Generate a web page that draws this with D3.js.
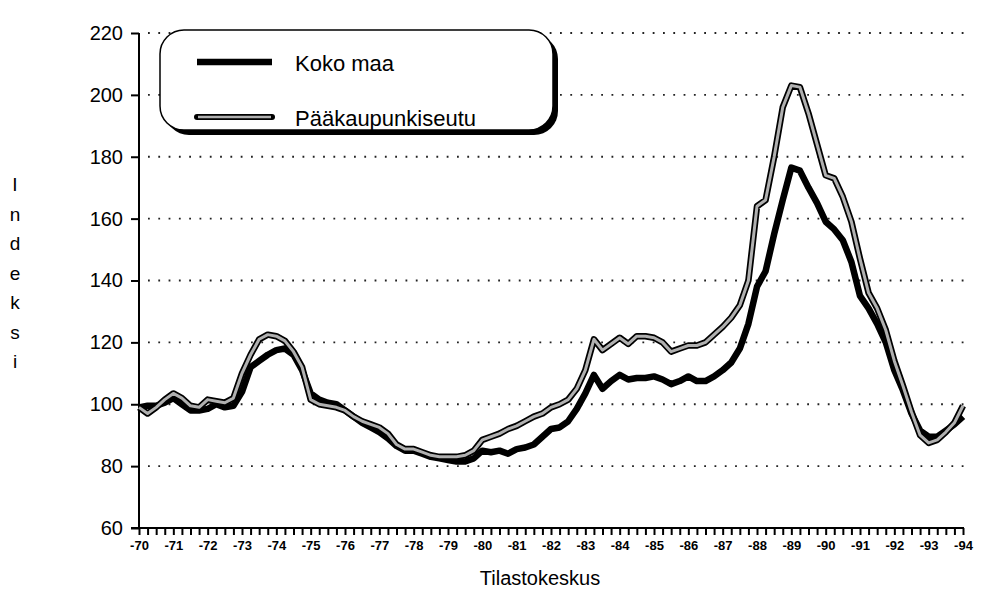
<!DOCTYPE html>
<html>
<head>
<meta charset="utf-8">
<script src="https://cdn.jsdelivr.net/npm/d3@7"></script>
<style>
  body { margin: 0; background: #fff; }
  svg { display: block; font-family: 'Liberation Sans', Arial, sans-serif; }
</style>
</head>
<body>
<svg id="chart" width="981" height="590"></svg>
<script>
// quarterly index values, 1970 Q1 .. 1994 Q1
const startYear = 1970;
const kokoMaa = [
  99, 99.5, 99.5, 100.5,  102, 100, 98, 98,  98.5, 100, 99, 99.5,
  104, 112, 114, 116,  117.5, 118, 116, 111,  103.5, 101.5, 100.5, 100,
  98, 96, 94, 92.5,  91, 89, 86.5, 85,  85, 84, 83, 82.5,
  82, 81.5, 81.5, 82.5,  85, 84.5, 85, 84,  85.5, 86, 87, 89.5,
  92, 92.5, 94.5, 98.5,  103.5, 109.5, 105, 107.5,  109.5, 108, 108.5, 108.5,
  109, 108, 106.5, 107.5,  109, 107.5, 107.5, 109,  111, 113.5, 118, 126,
  138, 143, 155, 166,  176.5, 175.5, 170, 165,  159, 156.5, 153, 146,
  135, 131, 126, 120,  111, 104.5, 97, 91.5,  89.5, 89.5, 91.5, 93.5,
  96
];
const paakaupunkiseutu = [
  99, 97, 99, 101.5,  103.5, 102, 99.5, 99,  101.5, 101, 100.5, 102,
  110, 116, 121, 122.5,  122, 120.5, 117, 112,  101.5, 100, 99.5, 99,
  98, 96, 94.5, 93.5,  92.5, 90.5, 87, 85.5,  85.5, 84.5, 83.5, 83,
  83, 83, 83.5, 85,  88.5, 89.5, 90.5, 92,  93, 94.5, 96, 97,
  99, 100, 101.5, 105,  111, 121, 117.5, 119.5,  121.5, 119.5, 122, 122,
  121.5, 120, 117, 118,  119, 119, 120, 122.5,  125, 128, 132, 140,
  164, 166, 180, 196,  203, 202.5, 194, 184,  174, 173, 167, 159,
  147, 136, 131, 124,  114, 106, 97.5, 90,  87.5, 88.5, 91, 94,
  99.5
];
const yTicks = [60, 80, 100, 120, 140, 160, 180, 200, 220];
const gridValues = [80, 100, 120, 140, 160, 180, 200, 220];
const yearLabels = ['-70','-71','-72','-73','-74','-75','-76','-77','-78','-79','-80','-81',
  '-82','-83','-84','-85','-86','-87','-88','-89','-90','-91','-92','-93','-94'];
const seriesNames = ['Koko maa', 'Pääkaupunkiseutu'];
const yTitle = 'Indeksi';
const xTitle = 'Tilastokeskus';

const svg = d3.select('#chart');
const x = d3.scaleLinear().domain([1970, 1994]).range([139, 963]);
const y = d3.scaleLinear().domain([60, 220]).range([528, 33]);

const quarters = d3.range(0, 97).map(i => startYear + i / 4);

// dotted grid
svg.append('g')
  .selectAll('line')
  .data(gridValues)
  .join('line')
  .attr('x1', 148)
  .attr('x2', 965)
  .attr('y1', d => y(d))
  .attr('y2', d => y(d))
  .attr('stroke', '#222')
  .attr('stroke-width', 1.8)
  .attr('stroke-dasharray', '1.8,8.5');

// y axis
const yAxis = svg.append('g')
  .attr('transform', `translate(${x(1970)},0)`)
  .call(d3.axisLeft(y).tickValues(yTicks).tickSize(8).tickPadding(8));
yAxis.select('.domain').attr('stroke', '#000').attr('stroke-width', 2).attr('d', `M0,${y(220)}V${y(60)}`);
yAxis.selectAll('.tick line').attr('stroke', '#000').attr('stroke-width', 2);
yAxis.selectAll('text')
  .style('font-size', '20px')
  .style('font-family', "'Liberation Sans', Arial, sans-serif")
  .attr('fill', '#000');

// x axis, quarterly ticks
const xAxis = svg.append('g')
  .attr('transform', `translate(0,${y(60)})`)
  .call(d3.axisBottom(x)
    .tickValues(quarters)
    .tickSize(7)
    .tickPadding(6)
    .tickFormat(d => Number.isInteger(d) ? yearLabels[d - startYear] : ''));
xAxis.select('.domain').attr('stroke', '#000').attr('stroke-width', 2.2).attr('d', `M${x(1970) - 8},0H${x(1994) + 1}`);
xAxis.selectAll('.tick line').attr('stroke', '#000').attr('stroke-width', 2);
xAxis.selectAll('text')
  .style('font-size', '13px')
  .style('font-weight', 'bold')
  .style('font-family', "'Liberation Sans', Arial, sans-serif")
  .attr('fill', '#000');

// axis titles
svg.append('g')
  .selectAll('text')
  .data(yTitle.split(''))
  .join('text')
  .attr('x', 15)
  .attr('y', (d, i) => 191 + i * 29.5)
  .attr('text-anchor', 'middle')
  .style('font-size', '19px')
  .text(d => d);

svg.append('text')
  .attr('x', 540)
  .attr('y', 585)
  .attr('text-anchor', 'middle')
  .style('font-size', '20px')
  .text(xTitle);

// lines
const line = d3.line()
  .x((d, i) => x(quarters[i]))
  .y(d => y(d));

svg.append('path')
  .datum(kokoMaa)
  .attr('d', line)
  .attr('fill', 'none')
  .attr('stroke', '#000')
  .attr('stroke-width', 6.5)
  .attr('stroke-linejoin', 'round');

svg.append('path')
  .datum(paakaupunkiseutu)
  .attr('d', line)
  .attr('fill', 'none')
  .attr('stroke', '#000')
  .attr('stroke-width', 6.5)
  .attr('stroke-linejoin', 'round');
svg.append('path')
  .datum(paakaupunkiseutu)
  .attr('d', line)
  .attr('fill', 'none')
  .attr('stroke', '#b0b0b0')
  .attr('stroke-width', 3)
  .attr('stroke-linejoin', 'round');

// legend
const legend = svg.append('g');
legend.append('rect')
  .attr('x', 165).attr('y', 35)
  .attr('width', 393).attr('height', 100)
  .attr('rx', 24).attr('ry', 24)
  .attr('fill', '#000');
legend.append('rect')
  .attr('x', 160).attr('y', 30)
  .attr('width', 393).attr('height', 100)
  .attr('rx', 24).attr('ry', 24)
  .attr('fill', '#fff')
  .attr('stroke', '#000')
  .attr('stroke-width', 1.5);

legend.append('line')
  .attr('x1', 197).attr('x2', 272).attr('y1', 62).attr('y2', 62)
  .attr('stroke', '#000').attr('stroke-width', 6.5);
legend.append('line')
  .attr('x1', 197).attr('x2', 272).attr('y1', 117).attr('y2', 117)
  .attr('stroke', '#000').attr('stroke-width', 6).attr('stroke-linecap', 'round');
legend.append('line')
  .attr('x1', 198).attr('x2', 271).attr('y1', 117).attr('y2', 117)
  .attr('stroke', '#b0b0b0').attr('stroke-width', 2.5);

legend.selectAll('text.lbl')
  .data(seriesNames)
  .join('text')
  .attr('class', 'lbl')
  .attr('x', 295)
  .attr('y', (d, i) => 71 + i * 55)
  .style('font-size', '22px')
  .text(d => d);
</script>
</body>
</html>
